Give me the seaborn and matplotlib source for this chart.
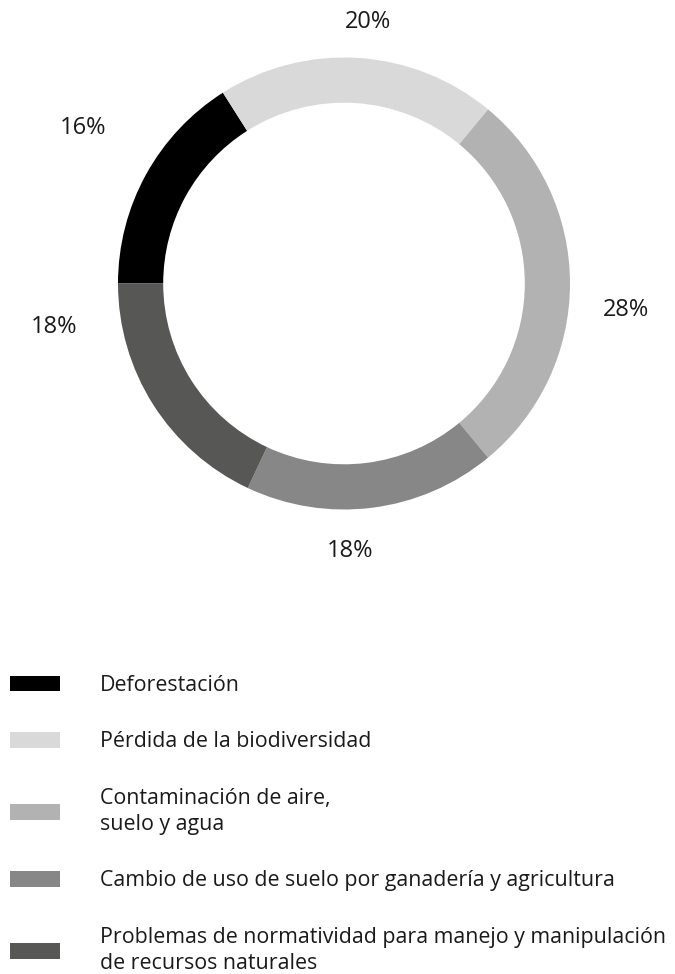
import seaborn as sns
import matplotlib.pyplot as plt
from matplotlib.patches import Patch

categories = ["Deforestación", "Pérdida de la biodiversidad",
              "Contaminación de aire,\nsuelo y agua",
              "Cambio de uso de suelo por ganadería y agricultura",
              "Problemas de normatividad para manejo y manipulación\nde recursos naturales"]
values = [16, 20, 28, 18, 18]
labels = ["16%", "20%", "28%", "18%", "18%"]
colors = ["#000000", "#d9d9d9", "#b2b2b2", "#878787", "#575756"]

# label spots in pie data units (radius = 1)
label_pos = [(-1.155, 0.688), (0.108, 1.157), (1.248, -0.117), (0.027, -1.184), (-1.283, -0.192)]

sns.set_theme(style="white")
plt.rcParams['font.family'] = ['Open Sans', 'DejaVu Sans']

fig = plt.figure(figsize=(6.75, 9.74), dpi=100)
W, H = 675, 974
cx, cy, R = 344, 283.5, 226
ax = fig.add_axes([(cx - R) / W, (H - cy - R) / H, 2 * R / W, 2 * R / H])

ax.pie(values, colors=colors, startangle=180, counterclock=False, radius=1,
       wedgeprops=dict(width=0.2, linewidth=0))
ax.set_xlim(-1, 1)
ax.set_ylim(-1, 1)
ax.set_aspect('equal')
ax.axis('off')

for (x, y), t in zip(label_pos, labels):
    ax.text(x, y, t, ha='center', va='center', fontsize=17, color='#1a1a1a', clip_on=False)

handles = [Patch(facecolor=c, edgecolor='none') for c in colors]
leg = fig.legend(handles, categories, loc='upper left',
                 bbox_to_anchor=(10 / W, 1 - 675 / H), frameon=False,
                 fontsize=15.4, handlelength=2.34, handleheight=0.75,
                 handletextpad=1.87, labelspacing=1.65, borderpad=0, borderaxespad=0)
for t in leg.get_texts():
    t.set_linespacing(1.34)
    t.set_color('#1a1a1a')

fig.savefig("out.png", dpi=100)
